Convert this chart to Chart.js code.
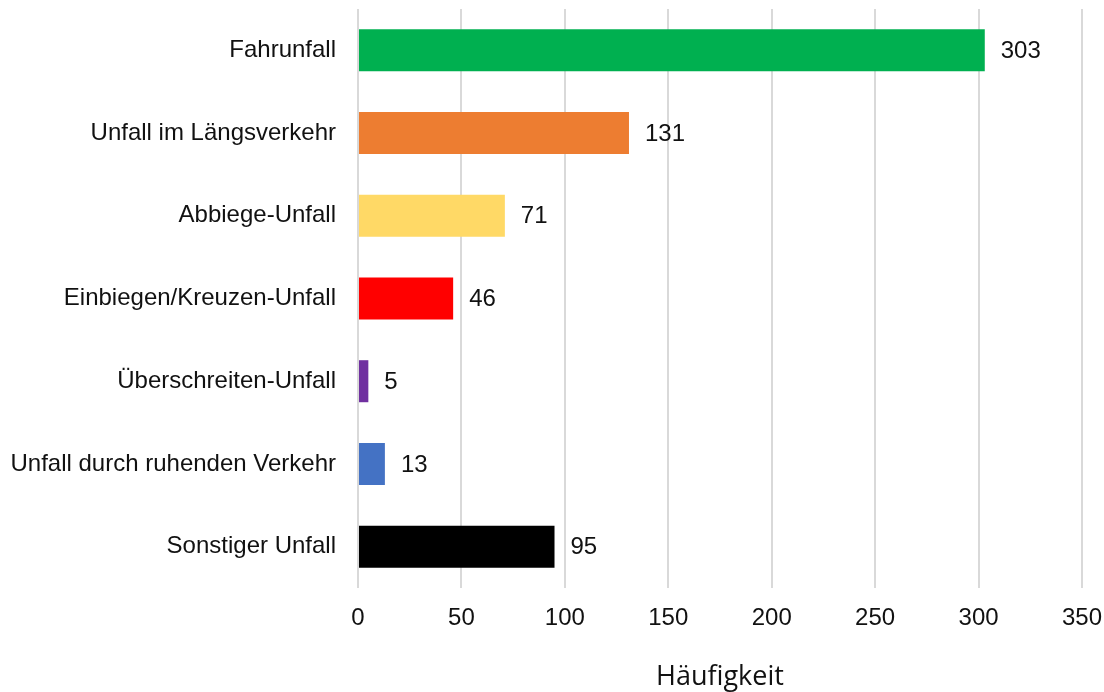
<!DOCTYPE html>
<html>
<head>
<meta charset="utf-8">
<script src="https://cdn.jsdelivr.net/npm/chart.js@4.4.1/dist/chart.umd.min.js"></script>
<style>
  html, body { margin: 0; padding: 0; background: #fff; }
  #wrap { width: 1104px; height: 692px; }
</style>
</head>
<body>
<div id="wrap"><canvas id="chart" width="1104" height="692"></canvas></div>
<script>
// Unfalltypen und Häufigkeiten
const categories = [
    "Fahrunfall",
    "Unfall im Längsverkehr",
    "Abbiege-Unfall",
    "Einbiegen/Kreuzen-Unfall",
    "Überschreiten-Unfall",
    "Unfall durch ruhenden Verkehr",
    "Sonstiger Unfall"
];
const counts = [303, 131, 71, 46, 5, 13, 95];
const barColors = ["#00B050", "#ED7D31", "#FFD966", "#FF0000", "#7030A0", "#4472C4", "#000000"];
const xTicks = [0, 50, 100, 150, 200, 250, 300, 350];

const labelFont = "'Liberation Sans', Arial, sans-serif";

// Werte rechts neben den Balken schreiben
const valueLabels = {
    id: 'valueLabels',
    afterDatasetsDraw(chart) {
        const ctx = chart.ctx;
        const meta = chart.getDatasetMeta(0);
        ctx.save();
        ctx.font = "24px " + labelFont;
        ctx.fillStyle = "#111";
        ctx.textAlign = "left";
        ctx.textBaseline = "middle";
        meta.data.forEach(function(bar, i) {
            ctx.fillText(String(counts[i]), bar.x + 16, bar.y + 1);
        });
        ctx.restore();
    }
};

// keine automatische Zusatz-Polsterung durch die Achsenbeschriftung
function noAxisPadding(axis) {
    axis.paddingTop = 0;
    axis.paddingBottom = 0;
    axis.paddingLeft = 0;
    axis.paddingRight = 0;
}

new Chart(document.getElementById('chart'), {
    type: 'bar',
    data: {
        labels: categories,
        datasets: [{
            data: counts,
            backgroundColor: barColors,
            borderWidth: 0,
            categoryPercentage: 1,
            barPercentage: 0.508
        }]
    },
    options: {
        indexAxis: 'y',
        responsive: false,
        animation: false,
        layout: { padding: { top: 9, right: 22, bottom: 1, left: 0 } },
        plugins: {
            legend: { display: false },
            tooltip: { enabled: false }
        },
        scales: {
            x: {
                min: 0,
                max: 350,
                afterBuildTicks(axis) {
                    axis.ticks = xTicks.map(v => ({ value: v }));
                },
                afterFit(axis) {
                    axis.height = 103;
                    noAxisPadding(axis);
                },
                grid: { color: "#d9d9d9", lineWidth: 2, drawTicks: false },
                border: { display: false },
                ticks: {
                    padding: 16,
                    color: "#111",
                    font: { size: 24, family: labelFont }
                },
                title: {
                    display: true,
                    text: "Häufigkeit",
                    color: "#111",
                    padding: { top: 0, bottom: -3 },
                    font: { size: 27, family: "'Open Sans', sans-serif" }
                }
            },
            y: {
                afterFit(axis) {
                    axis.width = 358;
                    noAxisPadding(axis);
                },
                grid: { display: false, drawTicks: false },
                border: { display: false },
                ticks: {
                    padding: 22,
                    color: "#111",
                    font: { size: 24, family: labelFont }
                }
            }
        }
    },
    plugins: [valueLabels]
});
</script>
</body>
</html>
